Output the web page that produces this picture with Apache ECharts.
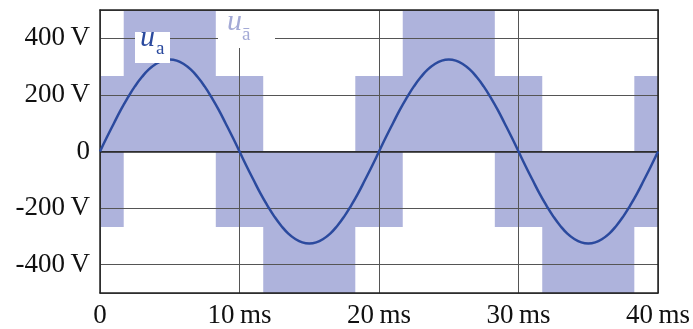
<!DOCTYPE html>
<html>
<head>
<meta charset="utf-8">
<script src="https://cdn.jsdelivr.net/npm/echarts@6/dist/echarts.min.js"></script>
<style>html,body{margin:0;padding:0;background:#fff}#c{width:693px;height:329px}</style>
</head>
<body>
<div id="c"></div>
<script>
// time samples (ms) for u_a
var timeMs = [0,0.5,1,1.5,2,2.5,3,3.5,4,4.5,5,5.5,6,6.5,7,7.5,8,8.5,9,9.5,10,
  10.5,11,11.5,12,12.5,13,13.5,14,14.5,15,15.5,16,16.5,17,17.5,18,18.5,19,19.5,20,
  20.5,21,21.5,22,22.5,23,23.5,24,24.5,25,25.5,26,26.5,27,27.5,28,28.5,29,29.5,30,
  30.5,31,31.5,32,32.5,33,33.5,34,34.5,35,35.5,36,36.5,37,37.5,38,38.5,39,39.5,40];
// u_a values (V)
var uaValues = [0,51,100,148,191,230,263,290,309,321,325,321,309,290,263,230,191,148,100,51,0,
  -51,-100,-148,-191,-230,-263,-290,-309,-321,-325,-321,-309,-290,-263,-230,-191,-148,-100,-51,0,
  51,100,148,191,230,263,290,309,321,325,321,309,290,263,230,191,148,100,51,0,
  -51,-100,-148,-191,-230,-263,-290,-309,-321,-325,-321,-309,-290,-263,-230,-191,-148,-100,-51,0];
// switched voltage band: step times (ms), upper and lower envelope (V)
var stepTimes = [0, 1.7, 8.3, 11.7, 18.3, 21.7, 28.3, 31.7, 38.3, 40];
var bandUpper = [267, 533, 267, 0, 267, 533, 267, 0, 267, 267];
var bandLower = [-267, 0, -267, -533, -267, 0, -267, -533, -267, -267];
// tick labels
var xTicks = [0, 10, 20, 30, 40];
var yTicks = [-400, -200, 0, 200, 400];

function pairs(xs, ys){ return xs.map(function(x,i){ return [x, ys[i]]; }); }

var FONT = 'Liberation Serif';
var fillColor = '#aeb3dc';
var lineColor = '#2b4a9e';
var gridColor = '#555';

var chart = echarts.init(document.getElementById('c'), null, {renderer:'canvas'});
chart.setOption({
  animation: false,
  backgroundColor: '#fff',
  grid: {left: 100, right: 34, top: 10, bottom: 34},
  xAxis: [{
    type: 'value', min: 0, max: 40, interval: 10, z: 4,
    axisLine: {onZero: false, lineStyle: {color: '#222', width: 1.5}},
    axisTick: {show: false},
    splitLine: {show: true, lineStyle: {color: gridColor, width: 1}},
    axisLabel: {
      fontFamily: FONT, fontSize: 27, color: '#111', margin: 9,
      formatter: function(v){ return xTicks.indexOf(v) < 0 ? '' : (v === 0 ? '0' : v + '\u2009ms'); }
    }
  }, {
    type: 'value', position: 'top', min: 0, max: 40, interval: 10, z: 4,
    axisLine: {onZero: false, lineStyle: {color: '#222', width: 1.5}},
    axisTick: {show: false}, axisLabel: {show: false}, splitLine: {show: false}
  }],
  yAxis: [{
    type: 'value', min: -500, max: 500, splitNumber: 5, z: 4,
    axisLine: {show: true, onZero: false, lineStyle: {color: '#222', width: 1.5}},
    axisTick: {show: false},
    splitLine: {show: true, lineStyle: {color: gridColor, width: 1}},
    axisLabel: {
      fontFamily: FONT, fontSize: 27, color: '#111', margin: 10,
      showMinLabel: false, showMaxLabel: false,
      formatter: function(v){ return yTicks.indexOf(v) < 0 ? '' : (v === 0 ? '0' : v + '\u2009V'); }
    }
  }, {
    type: 'value', position: 'right', min: -500, max: 500, z: 4,
    axisLine: {show: true, onZero: false, lineStyle: {color: '#222', width: 1.5}},
    axisTick: {show: false}, axisLabel: {show: false}, splitLine: {show: false}
  }],
  series: [{
    name: 'upper', type: 'line', step: 'end', z: 2, symbol: 'none',
    data: pairs(stepTimes, bandUpper),
    lineStyle: {width: 0, opacity: 0},
    areaStyle: {color: fillColor, opacity: 1, origin: 0},
    clip: true, silent: true
  }, {
    name: 'lower', type: 'line', step: 'end', z: 2, symbol: 'none',
    data: pairs(stepTimes, bandLower),
    lineStyle: {width: 0, opacity: 0},
    areaStyle: {color: fillColor, opacity: 1, origin: 0},
    clip: true, silent: true
  }, {
    name: 'ua', type: 'line', z: 6, symbol: 'none', smooth: true,
    data: pairs(timeMs, uaValues),
    lineStyle: {color: lineColor, width: 2.5},
    markLine: {
      silent: true, symbol: 'none', label: {show: false},
      lineStyle: {color: '#222', width: 1.5, type: 'solid'},
      data: [{yAxis: 0}]
    }
  }],
  graphic: [
    {type: 'rect', z: 100, shape: {x: 135, y: 32, width: 35, height: 31}, style: {fill: '#fff'}},
    {type: 'text', z: 101, x: 140, y: 53, style: {text: 'u', font: 'italic 30px "Liberation Serif"', fill: lineColor, verticalAlign: 'bottom'}},
    {type: 'text', z: 101, x: 156, y: 59, style: {text: 'a', font: '19px "Liberation Serif"', fill: lineColor, verticalAlign: 'bottom'}},
    {type: 'rect', z: 100, shape: {x: 218, y: 11, width: 57, height: 37}, style: {fill: '#fff'}},
    {type: 'text', z: 101, x: 227, y: 37, style: {text: 'u', font: 'italic 30px "Liberation Serif"', fill: '#a4aad6', verticalAlign: 'bottom'}},
    {type: 'text', z: 101, x: 242, y: 45, style: {text: '\u0101', font: '19px "Liberation Serif"', fill: '#a4aad6', verticalAlign: 'bottom'}}
  ]
});
</script>
</body>
</html>
